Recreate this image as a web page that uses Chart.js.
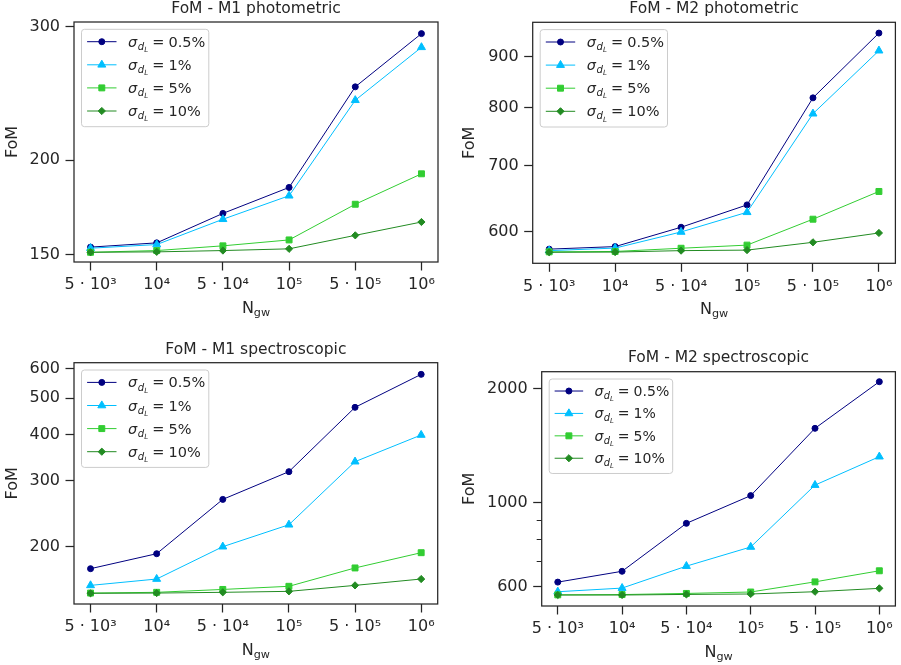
<!DOCTYPE html>
<html>
<head>
<meta charset="utf-8">
<script src="https://cdn.jsdelivr.net/npm/chart.js@4.4.1/dist/chart.umd.min.js"></script>
<style>
  html, body { margin: 0; padding: 0; background: #fff; }
  #wrap { position: relative; width: 901px; height: 665px; }
  .cell { position: absolute; }
</style>
</head>
<body>
<div id="wrap">
  <div class="cell" style="left:0;top:0;width:450px;height:330px"><canvas id="c1"></canvas></div>
  <div class="cell" style="left:450px;top:0;width:451px;height:330px"><canvas id="c2"></canvas></div>
  <div class="cell" style="left:0;top:330px;width:450px;height:335px"><canvas id="c3"></canvas></div>
  <div class="cell" style="left:450px;top:330px;width:451px;height:335px"><canvas id="c4"></canvas></div>
</div>
<script>
// x categories (number of GW events) and legend labels
const nLabels = ['5 · 10³', '10⁴', '5 · 10⁴', '10⁵', '5 · 10⁵', '10⁶'];
const sigmaLabels = ['0.5%', '1%', '5%', '10%'];

// FoM - M1 photometric
const m1Phot05 = [153.4, 155.4, 170, 184, 250, 294];
const m1Phot1  = [152.9, 154.6, 167, 179.4, 240, 282];
const m1Phot5  = [151, 151.8, 154, 156.8, 174.8, 191.8];
const m1Phot10 = [151, 151.2, 151.8, 152.6, 159, 165.6];
const m1PhotTicks = [150, 200, 300];

// FoM - M2 photometric
const m2Phot05 = [576.6, 580, 606.6, 638.8, 818.5, 951];
const m2Phot1  = [574.6, 578, 600, 628, 789, 913];
const m2Phot5  = [573, 573.5, 577.8, 582, 618, 659];
const m2Phot10 = [572.4, 572.7, 574.6, 575.3, 585.8, 598.6];
const m2PhotTicks = [600, 700, 800, 900];

// FoM - M1 spectroscopic
const m1Spec05 = [174.6, 191.5, 267.8, 317.8, 472.6, 579.4];
const m1Spec1  = [157.5, 163.8, 200, 229, 338, 398.5];
const m1Spec5  = [150.2, 150.9, 153.6, 156.6, 175.4, 192.7];
const m1Spec10 = [150, 150.2, 150.9, 151.8, 157.5, 163.8];
const m1SpecTicks = [200, 300, 400, 500, 600];

// FoM - M2 spectroscopic
const m2Spec05 = [617, 659, 882, 1044, 1572, 2087];
const m2Spec1  = [582, 595, 680, 764, 1113, 1323];
const m2Spec5  = [571, 572, 576, 581, 618, 661];
const m2Spec10 = [570.5, 570.5, 572.5, 574, 582, 594];
const m2SpecTicks = [600, 1000, 2000];
const m2SpecMinor = [700, 800, 900];

const INK = '#262626';
const FONT = '"DejaVu Sans", sans-serif';
const colors = ['#000080', '#00bfff', '#32cd32', '#228b22'];
const markers = ['circle', 'triangle', 'rect', 'rectRot'];
const radii = [3, 4.6, 4.2, 3.6];

function drawSigmaLabel(ctx, text, x, y, fs) {
  ctx.textBaseline = 'alphabetic';
  ctx.textAlign = 'left';
  ctx.font = `italic ${fs}px ${FONT}`;
  ctx.fillText('σ', x, y);
  let cx = x + ctx.measureText('σ').width + 0.04 * fs;
  const f2 = fs * 0.7, f3 = f2 * 0.7;
  ctx.font = `italic ${f2}px ${FONT}`;
  ctx.fillText('d', cx, y + 0.22 * fs);
  cx += ctx.measureText('d').width;
  ctx.font = `italic ${f3}px ${FONT}`;
  ctx.fillText('L', cx, y + 0.36 * fs);
  cx += ctx.measureText('L').width + 0.28 * fs;
  ctx.font = `${fs}px ${FONT}`;
  ctx.fillText('=', cx, y);
  cx += ctx.measureText('=').width + 0.28 * fs;
  ctx.fillText(text, cx, y);
}

// spines, x label with subscript and the legend box
const framePlugin = {
  id: 'frame',
  afterDraw(chart, args, opts) {
    const ctx = chart.ctx, a = chart.chartArea;
    ctx.save();
    ctx.strokeStyle = INK;
    ctx.lineWidth = 1.25;
    ctx.strokeRect(a.left, a.top, a.right - a.left, a.bottom - a.top);

    // N_gw
    ctx.fillStyle = INK;
    ctx.textBaseline = 'alphabetic';
    ctx.textAlign = 'left';
    ctx.font = `16px ${FONT}`;
    const wN = ctx.measureText('N').width;
    ctx.font = `11.2px ${FONT}`;
    const wS = ctx.measureText('gw').width;
    const lx = (a.left + a.right) / 2 - (wN + wS) / 2;
    const ly = a.bottom + 50.5;
    ctx.font = `16px ${FONT}`;
    ctx.fillText('N', lx, ly);
    ctx.font = `11.2px ${FONT}`;
    ctx.fillText('gw', lx + wN, ly + 3.5);

    // legend
    const s = opts.scale || 1;
    const bx = a.left + 7.5, by = a.top + 7.3, bw = 127.3 * s, bh = 97.4 * s;
    ctx.beginPath();
    ctx.roundRect(bx, by, bw, bh, 3);
    ctx.fillStyle = 'rgba(255,255,255,0.8)';
    ctx.fill();
    ctx.strokeStyle = '#cccccc';
    ctx.lineWidth = 1;
    ctx.stroke();
    chart.data.datasets.forEach((ds, i) => {
      const y = by + (12.4 + i * 23.1) * s;
      ctx.strokeStyle = ds.borderColor;
      ctx.fillStyle = ds.borderColor;
      ctx.lineWidth = ds.borderWidth;
      ctx.beginPath();
      ctx.moveTo(bx + 5.6 * s, y);
      ctx.lineTo(bx + 35 * s, y);
      ctx.stroke();
      ctx.lineWidth = 1;
      Chart.helpers.drawPoint(ctx, { pointStyle: ds.pointStyle, radius: ds.pointRadius, borderWidth: 1, rotation: 0 }, bx + 20.3 * s, y);
      ctx.fillStyle = INK;
      drawSigmaLabel(ctx, sigmaLabels[i], bx + 46.6 * s, y + 5 * s, 14.5 * s);
    });
    ctx.restore();
  }
};

function makePanel(id, p) {
  const datasets = p.series.map((vals, i) => ({
    label: sigmaLabels[i],
    data: vals.map((v, j) => ({ x: j, y: v })),
    borderColor: colors[i],
    backgroundColor: colors[i],
    borderWidth: 1,
    pointStyle: markers[i],
    pointRadius: radii[i],
    pointBorderWidth: 1,
    order: 3 - i
  }));
  const allTicks = p.yTicks.concat(p.yMinor).sort((a, b) => a - b);
  return new Chart(document.getElementById(id), {
    type: 'line',
    data: { datasets },
    options: {
      responsive: true,
      maintainAspectRatio: false,
      animation: false,
      layout: { padding: { left: 0, top: 0, right: p.padRight, bottom: 0 } },
      plugins: {
        legend: { display: false },
        tooltip: { enabled: false },
        title: {
          display: true, text: p.title, fullSize: false, color: INK,
          font: { family: FONT, size: 15.5, weight: 'normal', lineHeight: 18 / 15.5 },
          padding: p.titlePad
        },
        frame: { scale: p.legendScale }
      },
      scales: {
        x: {
          type: 'linear', min: -0.25, max: 5.25,
          afterBuildTicks: (sc) => { sc.ticks = nLabels.map((_, j) => ({ value: j })); },
          afterFit: (sc) => { sc.height = p.bottom; },
          ticks: {
            callback: (v) => nLabels[v], autoSkip: false, maxRotation: 0,
            color: INK, padding: 5, font: { family: FONT, size: 16 }
          },
          grid: { drawOnChartArea: false, tickLength: 8.5, tickWidth: 1.25, tickColor: INK },
          border: { display: false }
        },
        y: {
          type: 'logarithmic', min: p.yMin, max: p.yMax,
          afterBuildTicks: (sc) => { sc.ticks = allTicks.map(v => ({ value: v })); },
          afterFit: (sc) => { sc.width = p.left; },
          ticks: {
            callback: (v) => p.yTicks.includes(v) ? String(v) : '',
            autoSkip: false, color: INK, padding: 5.5, font: { family: FONT, size: 16 }
          },
          grid: {
            drawOnChartArea: false, tickLength: 8.5, tickColor: INK,
            tickWidth: (c) => p.yMinor.includes(c.tick.value) ? 1 : 1.25,
            tickBorderDash: (c) => p.yMinor.includes(c.tick.value) ? [0, 3.5, 5, 0] : []
          },
          border: { display: false },
          title: {
            display: true, text: 'FoM', color: INK,
            font: { family: FONT, size: 16 }, padding: { top: p.yTitlePad, bottom: 0 }
          }
        }
      }
    },
    plugins: [framePlugin]
  });
}

makePanel('c1', {
  title: 'FoM - M1 photometric',
  series: [m1Phot05, m1Phot1, m1Phot5, m1Phot10],
  yMin: 146.6, yMax: 304.6, yTicks: m1PhotTicks, yMinor: [],
  left: 74, padRight: 12, bottom: 68, titlePad: { top: 0, bottom: 4 }, yTitlePad: 3, legendScale: 1
});
makePanel('c2', {
  title: 'FoM - M2 photometric',
  series: [m2Phot05, m2Phot1, m2Phot5, m2Phot10],
  yMin: 558, yMax: 975, yTicks: m2PhotTicks, yMinor: [],
  left: 82.7, padRight: 4.7, bottom: 66.7, titlePad: { top: 0, bottom: 4.3 }, yTitlePad: 10.7, legendScale: 1
});
makePanel('c3', {
  title: 'FoM - M1 spectroscopic',
  series: [m1Spec05, m1Spec1, m1Spec5, m1Spec10],
  yMin: 140.4, yMax: 622.6, yTicks: m1SpecTicks, yMinor: [],
  left: 74, padRight: 12.3, bottom: 61, titlePad: { top: 10.8, bottom: 3.9 }, yTitlePad: 3.2, legendScale: 1
});
makePanel('c4', {
  title: 'FoM - M2 spectroscopic',
  series: [m2Spec05, m2Spec1, m2Spec5, m2Spec10],
  yMin: 533.6, yMax: 2218, yTicks: m2SpecTicks, yMinor: m2SpecMinor,
  left: 91.7, padRight: 4.3, bottom: 59, titlePad: { top: 18.5, bottom: 5.2 }, yTitlePad: 10.7, legendScale: 0.97
});
</script>
</body>
</html>
